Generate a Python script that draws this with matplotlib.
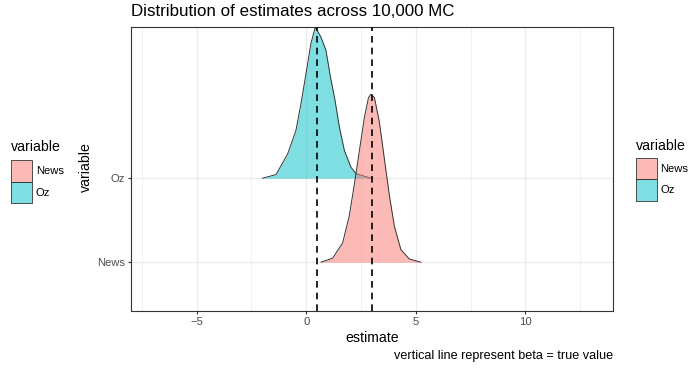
import matplotlib

matplotlib.use('Agg')
import matplotlib.pyplot as plt
from matplotlib.colors import to_rgb
from matplotlib.patches import Patch

plt.rcParams['font.family'] = ['Liberation Sans', 'DejaVu Sans']

# ridge order (bottom to top) and colours
groups = ['News', 'Oz']
colors = ['#F8766D', '#00BFC4']
true_values = [0.5, 3.0]

# density profiles (height in ridge units)
oz_x = [-2.00, -1.38, -0.85, -0.47, -0.24, -0.01, 0.21, 0.41, 0.67, 0.90,
        1.10, 1.31, 1.51, 1.74, 2.04, 2.27, 2.65, 2.95]
oz_h = [0.0, 0.044, 0.29, 0.57, 0.89, 1.25, 1.60, 1.80, 1.68, 1.52,
        1.21, 0.93, 0.61, 0.33, 0.13, 0.056, 0.024, 0.0]
news_x = [0.67, 1.20, 1.66, 1.96, 2.19, 2.42, 2.65, 2.84, 2.95, 3.11,
          3.33, 3.56, 3.79, 4.02, 4.32, 4.70, 5.24]
news_h = [0.0, 0.048, 0.23, 0.55, 0.92, 1.32, 1.72, 1.96, 2.00, 1.96,
          1.68, 1.24, 0.80, 0.43, 0.15, 0.04, 0.0]

W, H = 696, 372


def fx(x):
    return x / W


def fy(y):
    return 1 - y / H


fig = plt.figure(figsize=(W / 100, H / 100), dpi=100)
ax = fig.add_axes([fx(131), fy(311), fx(613) - fx(131), fy(27) - fy(311)])

ax.set_xlim(-8.0, 14.0)
ax.set_ylim(0.42, 3.80)
ax.set_xticks([-5, 0, 5, 10])
ax.set_xticks([-7.5, -2.5, 2.5, 7.5, 12.5], minor=True)
ax.set_yticks([1, 2])
ax.set_yticklabels(groups)
ax.grid(which='major', color='#EBEBEB', lw=0.9)
ax.grid(which='minor', axis='x', color='#EBEBEB', lw=0.45)
ax.set_axisbelow(True)
ax.tick_params(which='major', length=2.5, width=0.8, color='#333333',
               labelsize=8.1, labelcolor='#4D4D4D', pad=2)
ax.tick_params(which='minor', length=0)
for s in ax.spines.values():
    s.set_color('#333333')
    s.set_linewidth(0.8)

# draw top ridge first so the lower one sits in front
profiles = [(news_x, news_h), (oz_x, oz_h)]
for i in [1, 0]:
    xs, hs = profiles[i]
    base = i + 1
    top = [base + h for h in hs]
    ax.fill_between(xs, base, top, color=colors[i], alpha=0.5, lw=0, zorder=2 + (1 - i))
    ax.plot(xs, top, color='#333333', lw=0.7, zorder=2 + (1 - i))

for v in true_values:
    ax.axvline(v, color='black', lw=1.2, ls=(0, (4, 3)), zorder=5)

fig.text(fx(131), fy(16.5), 'Distribution of estimates across 10,000 MC',
         fontsize=12.2, color='black', ha='left', va='baseline')
fig.text(fx(372), fy(342.5), 'estimate', fontsize=10.2, ha='center', va='baseline')
fig.text(fx(613), fy(358.5), 'vertical line represent beta = true value',
         fontsize=9.1, ha='right', va='baseline')
fig.text(fx(85.5), fy(167.5), 'variable', fontsize=10.2, rotation=90,
         ha='center', va='center')

handles = [Patch(facecolor=(*to_rgb(c), 0.5), edgecolor='#333333', lw=0.6)
           for c in colors]
leg_kw = dict(title='variable', frameon=False, fontsize=8.1, title_fontsize=10.2,
              handlelength=1.9, handleheight=2.56, labelspacing=0.0,
              handletextpad=0.3, borderpad=0, borderaxespad=0,
              alignment='left', loc='upper left', bbox_transform=fig.transFigure)
left = fig.legend(handles, groups, bbox_to_anchor=(fx(11), fy(140)), **leg_kw)
right = fig.legend(handles, groups, bbox_to_anchor=(fx(635.5), fy(139)), **leg_kw)
left._legend_box.sep = 4.5
right._legend_box.sep = 3.5

fig.savefig('out.png', dpi=100)
